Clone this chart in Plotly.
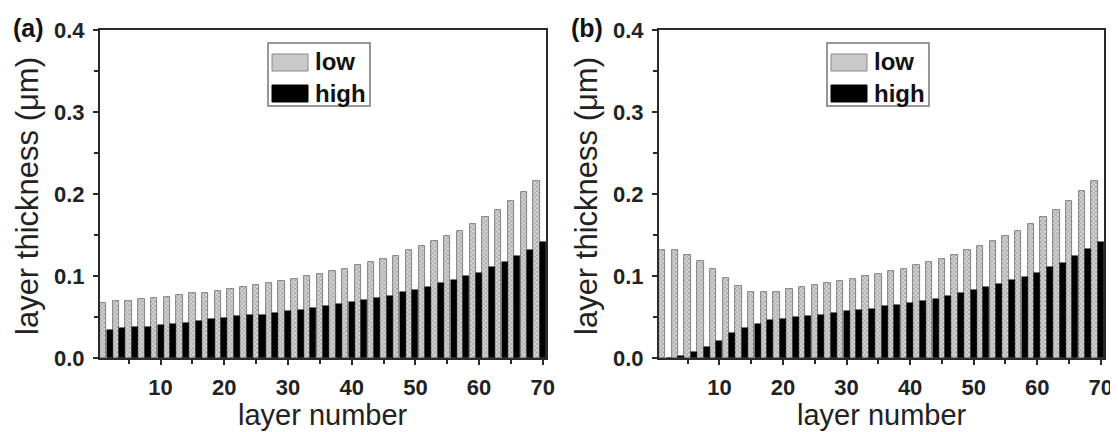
import plotly.graph_objects as go

# ---------------- data ----------------
low_layers = list(range(1, 70, 2))    # odd layers: low index
high_layers = list(range(2, 71, 2))   # even layers: high index

low_a = [0.067, 0.069, 0.069, 0.072, 0.073, 0.074, 0.077, 0.079, 0.079, 0.082,
         0.084, 0.086, 0.089, 0.091, 0.094, 0.096, 0.100, 0.102, 0.106, 0.108,
         0.113, 0.117, 0.121, 0.125, 0.132, 0.136, 0.143, 0.149, 0.155, 0.164,
         0.172, 0.181, 0.191, 0.203, 0.216]
high_a = [0.034, 0.036, 0.038, 0.038, 0.040, 0.042, 0.043, 0.045, 0.047, 0.049,
          0.051, 0.052, 0.053, 0.055, 0.057, 0.059, 0.061, 0.063, 0.066, 0.068,
          0.071, 0.073, 0.076, 0.080, 0.083, 0.087, 0.091, 0.095, 0.100, 0.104,
          0.111, 0.117, 0.124, 0.132, 0.141]

low_b = [0.132, 0.132, 0.126, 0.118, 0.109, 0.098, 0.088, 0.081, 0.081, 0.081,
         0.084, 0.086, 0.089, 0.091, 0.094, 0.096, 0.100, 0.102, 0.106, 0.109,
         0.113, 0.117, 0.121, 0.126, 0.132, 0.136, 0.143, 0.149, 0.155, 0.164,
         0.172, 0.181, 0.192, 0.204, 0.216]
high_b = [0.000, 0.003, 0.007, 0.013, 0.021, 0.030, 0.036, 0.042, 0.046, 0.048,
          0.050, 0.051, 0.053, 0.055, 0.057, 0.059, 0.060, 0.063, 0.065, 0.067,
          0.070, 0.072, 0.076, 0.079, 0.083, 0.087, 0.090, 0.095, 0.099, 0.104,
          0.111, 0.116, 0.124, 0.133, 0.141]

panel_labels = ["(a)", "(b)"]
legend_names = ["low", "high"]
x_title = "layer number"
y_title = "layer thickness (μm)"
x_ticks = [10, 20, 30, 40, 50, 60, 70]
y_ticks = [0.0, 0.1, 0.2, 0.3, 0.4]

# ---------------- style ----------------
# the page body adds an 8 px margin, so the figure is drawn 8 px in from the corner
OFF = 8
W, H = 1118 - OFF, 432 - OFF
FONT = "Liberation Sans, Arial, sans-serif"
AX = "#2a2a2a"
LOW_FILL = "#d6d6d6"
LOW_FG = "#8a8a8a"

def px(x): return (x - OFF) / W        # window pixel -> paper x
def py(y): return 1 - (y - OFF) / H    # window pixel -> paper y

fig = go.Figure()

panels = [(low_a, high_a, "x", "y"), (low_b, high_b, "x2", "y2")]
for lo, hi, xa, ya in panels:
    fig.add_trace(go.Bar(
        x=low_layers, y=lo, xaxis=xa, yaxis=ya, width=1.0,
        name=legend_names[0], showlegend=False,
        marker=dict(color=LOW_FILL,
                    line=dict(color="#6a6a6a", width=0.8),
                    pattern=dict(shape="x", fgcolor=LOW_FG, bgcolor=LOW_FILL,
                                 size=3, solidity=0.35, fillmode="replace")),
    ))
    fig.add_trace(go.Bar(
        x=high_layers, y=hi, xaxis=xa, yaxis=ya, width=0.95,
        name=legend_names[1], showlegend=False,
        marker=dict(color="#000000", line=dict(color="#000000", width=0.5)),
    ))

# plot area geometry in window pixels
areas = [(100, 546), (659, 1104)]
top, bottom = 30, 358
ydom = [py(bottom), py(top)]

axis_common = dict(
    showline=True, linecolor=AX, linewidth=2.2, mirror=True,
    showgrid=False, zeroline=False, automargin=False,
    ticklabeloverflow="allow",
    ticks="outside", tickcolor=AX, tickwidth=1.5, ticklen=5,
    tickfont=dict(family=FONT, size=22, color="#222", weight="bold"),
)

for i, (l, r) in enumerate(areas):
    sfx = "" if i == 0 else str(i + 1)
    fig.update_layout(**{
        "xaxis" + sfx: dict(
            axis_common, domain=[px(l), px(r)], anchor="y" + sfx,
            range=[0.5, 70.5], tickvals=x_ticks, ticklabelstandoff=3,
            minor=dict(dtick=5, tick0=0, ticks="outside", ticklen=4,
                       tickcolor=AX, tickwidth=1.5),
        ),
        "yaxis" + sfx: dict(
            axis_common, domain=ydom, anchor="x" + sfx,
            range=[0, 0.4], tickvals=y_ticks, tickformat=".1f", ticklabelstandoff=4,
            minor=dict(dtick=0.05, tick0=0, ticks="outside", ticklen=4,
                       tickcolor=AX, tickwidth=1.5),
        ),
    })

    # axis titles
    fig.add_annotation(xref="paper", yref="paper",
                       x=px((l + r) / 2), y=py(414.5), xanchor="center", yanchor="middle",
                       text=x_title, showarrow=False,
                       font=dict(family=FONT, size=29, color="#222"))
    fig.add_annotation(xref="paper", yref="paper",
                       x=px(l - 73), y=py(196), xanchor="center", yanchor="middle",
                       text=y_title, textangle=-90, showarrow=False,
                       font=dict(family=FONT, size=31, color="#222"))

    # panel label
    fig.add_annotation(xref="paper", yref="paper",
                       x=px(l - 72), y=py(28), xanchor="center", yanchor="middle",
                       text=panel_labels[i], showarrow=False,
                       font=dict(family=FONT, size=25, color="#111", weight="bold"))

    # custom legend (box, swatches, labels)
    off = l - 100
    bx0, bx1, by0, by1 = 268 + off, 370 + off, 43, 106
    fig.add_shape(type="rect", xref="paper", yref="paper",
                  x0=px(bx0), x1=px(bx1), y0=py(by1), y1=py(by0),
                  line=dict(color="#777", width=1.5), fillcolor="white", layer="above")
    fig.add_shape(type="rect", xref="paper", yref="paper",
                  x0=px(272 + off), x1=px(308 + off), y0=py(71), y1=py(54),
                  line=dict(color="#888", width=1), fillcolor="#c9c9c9", layer="above")
    fig.add_shape(type="rect", xref="paper", yref="paper",
                  x0=px(272 + off), x1=px(308 + off), y0=py(102), y1=py(85),
                  line=dict(color="#000", width=1), fillcolor="#000", layer="above")
    for txt, yc in zip(legend_names, [61, 93]):
        fig.add_annotation(xref="paper", yref="paper",
                           x=px(313 + off), y=py(yc), xanchor="left", yanchor="middle",
                           text=txt, showarrow=False,
                           font=dict(family=FONT, size=24, color="#111", weight="bold"))

fig.update_layout(
    width=W, height=H,
    margin=dict(l=0, r=0, t=0, b=0, autoexpand=False),
    paper_bgcolor="white", plot_bgcolor="white",
    barmode="overlay", bargap=0,
    showlegend=False,
)

fig.write_html("out.html")
